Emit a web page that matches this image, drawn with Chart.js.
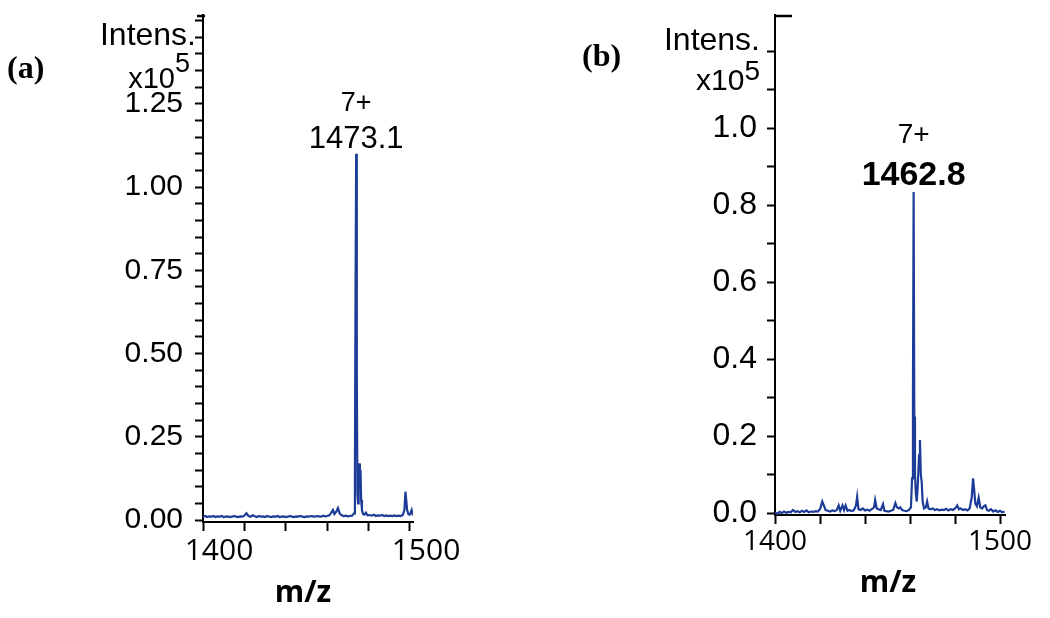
<!DOCTYPE html>
<html>
<head>
<meta charset="utf-8">
<script src="https://cdn.jsdelivr.net/npm/chart.js@4.4.1/dist/chart.umd.min.js"></script>
<style>
  html, body { margin: 0; padding: 0; background: #fff; }
  #wrap { position: relative; width: 1050px; height: 618px; overflow: hidden; background: #fff; }
  canvas { position: absolute; top: 0; }
</style>
</head>
<body>
<div id="wrap">
  <canvas id="cA" width="525" height="618" style="left:0px"></canvas>
  <canvas id="cB" width="525" height="618" style="left:525px"></canvas>
</div>
<script>
// ---------- Panel (a) data ----------
const mzA = [1400,1401,1402,1403,1404,1405,1406,1407,1408,1409,1410,1411,1412,1413,1414,1415,1416,1417,1418,1419,1420,1421,1422,1423,1424,1425,1426,1427,1428,1429,1430,1431,1432,1433,1434,1435,1436,1437,1438,1439,1440,1441,1442,1443,1444,1445,1446,1447,1448,1449,1450,1451,1452,1453,1454,1455,1456,1457,1458,1459,1460,1461,1462,1462.8,1463.5,1464.3,1465.2,1466,1467,1468,1469,1470,1471,1472,1473,1473.4,1473.7,1474.0,1474.3,1474.6,1474.9,1475.2,1475.5,1475.8,1476.1,1476.4,1476.8,1477.3,1478,1478.7,1479.5,1480.5,1481.5,1482.5,1483.5,1484.5,1485.5,1486.5,1487.5,1488.5,1489.5,1490.5,1491.5,1492.5,1493.5,1494.5,1495.5,1496.5,1497.3,1497.8,1498.2,1498.6,1499.2,1499.8,1500.3,1500.8,1501.2,1501.5];
const intA = [0.010,0.012,0.009,0.011,0.010,0.012,0.009,0.011,0.010,0.012,0.009,0.010,0.011,0.009,0.010,0.012,0.010,0.009,0.011,0.010,0.013,0.020,0.012,0.010,0.014,0.011,0.009,0.012,0.010,0.011,0.009,0.012,0.010,0.009,0.011,0.010,0.012,0.009,0.010,0.011,0.009,0.010,0.012,0.010,0.009,0.011,0.010,0.012,0.010,0.009,0.011,0.010,0.012,0.011,0.010,0.012,0.011,0.010,0.013,0.011,0.012,0.014,0.022,0.030,0.018,0.024,0.036,0.020,0.014,0.012,0.013,0.011,0.012,0.013,0.020,0.15,0.70,1.10,0.45,0.08,0.05,0.14,0.17,0.12,0.15,0.06,0.03,0.018,0.016,0.022,0.014,0.015,0.013,0.016,0.012,0.014,0.013,0.015,0.012,0.014,0.012,0.013,0.012,0.014,0.012,0.013,0.012,0.015,0.030,0.085,0.060,0.030,0.018,0.016,0.022,0.030,0.018,0.014];
const peakA = { mz: 1474.0, value: 1.10, charge: "7+", label: "1473.1" };

// ---------- Panel (b) data ----------
const mzB = [1400,1401,1402,1403,1404,1405,1406,1407,1408,1409,1410,1411,1412,1413,1414,1415,1416,1417,1418,1419,1420,1421,1421.8,1422.5,1423.5,1424.5,1425.5,1426.5,1427.5,1428.3,1429,1430,1430.7,1431.4,1432.2,1433,1434,1435,1436,1436.5,1437.1,1438,1439,1440,1441,1442,1443,1444,1444.5,1445.2,1446,1447,1448,1448.6,1449.5,1450.5,1451.5,1452.5,1453.5,1454.2,1455,1455.7,1456.5,1457.5,1458.5,1459.5,1460.4,1460.9,1461.3,1461.6,1461.9,1462.2,1462.6,1463.0,1463.5,1464.0,1464.4,1464.8,1465.2,1465.6,1466.2,1467,1467.6,1468.2,1469,1470,1471,1472,1473,1474,1475,1476,1477,1478,1479,1480,1481,1481.7,1482.5,1483.5,1484.5,1485.5,1486.5,1487.4,1488.0,1488.5,1489.0,1489.7,1490.5,1491.2,1492,1492.8,1493.5,1494.2,1495,1496,1497,1498,1499,1500,1501,1502];
const intB = [0.002,-0.002,0.003,0.000,0.004,0.001,0.003,0.002,0.008,0.003,0.005,0.002,0.006,0.003,0.007,0.002,0.004,0.003,0.005,0.004,0.010,0.030,0.018,0.008,0.006,0.004,0.007,0.005,0.008,0.020,0.006,0.020,0.008,0.020,0.006,0.008,0.005,0.007,0.020,0.042,0.010,0.008,0.012,0.007,0.009,0.006,0.010,0.015,0.034,0.012,0.010,0.008,0.023,0.006,0.005,0.004,0.006,0.008,0.026,0.015,0.012,0.015,0.008,0.006,0.005,0.008,0.015,0.09,0.30,0.834,0.25,0.10,0.05,0.03,0.08,0.15,0.19,0.10,0.08,0.03,0.012,0.015,0.030,0.012,0.010,0.012,0.008,0.010,0.007,0.009,0.008,0.011,0.007,0.010,0.008,0.012,0.020,0.010,0.012,0.008,0.010,0.007,0.012,0.04,0.090,0.060,0.025,0.018,0.040,0.015,0.012,0.018,0.020,0.008,0.006,0.010,0.004,0.007,0.003,0.006,0.002,0.004];
const peakB = { mz: 1461.6, value: 0.834, charge: "7+", label: "1462.8" };

// ---------- Tick label lists ----------
const yLabelsA = ["0.00","0.25","0.50","0.75","1.00","1.25"];
const yLabelsB = ["0.0","0.2","0.4","0.6","0.8","1.0"];
const xLabels = ["1400","1500"];

const LINE_COLOR = '#1d3c98';

const extrasPlugin = {
  id: 'extras',
  afterDraw(chart, args, opts) {
    const ctx = chart.ctx;
    const xs = chart.scales.x, ys = chart.scales.y;
    const ca = chart.chartArea;
    ctx.save();
    ctx.fillStyle = '#000';
    ctx.textBaseline = 'alphabetic';
    // panel letter
    ctx.font = opts.letterFont;
    ctx.textAlign = 'left';
    ctx.fillText(opts.letter, opts.letterPos[0], opts.letterPos[1]);
    // Intens. and x10^5
    ctx.textAlign = 'right';
    ctx.font = opts.intensFont;
    ctx.fillText('Intens.', ca.left + opts.intensPos[0], opts.intensPos[1]);
    ctx.font = opts.expFont;
    const supW = ctx.measureText('5').width;
    ctx.fillText('5', ca.left + opts.expPos[0], opts.expPos[2]);
    ctx.font = opts.x10Font;
    ctx.fillText('x10', ca.left + opts.expPos[0] - supW, opts.expPos[1]);
    // peak annotations
    const px = xs.getPixelForValue(opts.peak.mz);
    const py = ys.getPixelForValue(opts.peak.value);
    ctx.textAlign = 'center';
    ctx.font = opts.chargeFont;
    ctx.fillText(opts.peak.charge, px, py - opts.chargeGap);
    ctx.font = opts.peakFont;
    ctx.fillText(opts.peak.label, px, py - opts.labelGap);
    // axis title
    ctx.font = 'bold 30px "Open Sans", sans-serif';
    ctx.fillText('m/z', ca.left + opts.titlePos[0], opts.titlePos[1]);
    // axis top cap
    ctx.strokeStyle = '#000';
    ctx.lineWidth = 2.5;
    ctx.beginPath();
    ctx.moveTo(ca.left + opts.capDx[0], ca.top + 1);
    ctx.lineTo(ca.left + opts.capDx[1], ca.top + 1);
    ctx.stroke();
    ctx.restore();
  }
};

function makeChart(id, mz, inten, cfg) {
  return new Chart(document.getElementById(id), {
    type: 'line',
    data: {
      datasets: [{
        data: mz.map((m, i) => ({ x: m, y: inten[i] })),
        borderColor: LINE_COLOR,
        borderWidth: 2.2,
        pointRadius: 0,
        tension: 0,
        fill: false
      }]
    },
    options: {
      responsive: false,
      animation: false,
      devicePixelRatio: 1,
      layout: { padding: { top: 15, right: cfg.padRight, left: 0, bottom: 0 } },
      plugins: { legend: { display: false }, tooltip: { enabled: false }, extras: cfg.extras },
      scales: {
        x: {
          type: 'linear',
          min: 1400, max: cfg.xMax,
          afterFit(s) { s.height = cfg.xAxisH; s.paddingLeft = 0; s.paddingRight = 0; },
          border: { display: true, color: '#000', width: 2 },
          grid: { drawOnChartArea: false, drawTicks: true, tickLength: 9, tickWidth: 2, tickColor: '#000' },
          ticks: {
            stepSize: 20, autoSkip: false, includeBounds: false, maxRotation: 0,
            color: '#000', font: { family: '"Open Sans", sans-serif', size: cfg.xFont },
            padding: cfg.xPad, labelOffset: cfg.xLabelOffset,
            callback: (v) => { const s = String(Math.round(v)); return xLabels.includes(s) ? s : ''; }
          }
        },
        y: {
          type: 'linear',
          min: cfg.yMin, max: cfg.yMax,
          afterFit(s) { s.width = cfg.yAxisW; s.paddingTop = 0; s.paddingBottom = 0; },
          border: { display: true, color: '#000', width: 2 },
          grid: { drawOnChartArea: false, drawTicks: true, tickLength: 8, tickWidth: 2, tickColor: '#000' },
          ticks: {
            stepSize: cfg.yStep, autoSkip: false, includeBounds: false,
            color: '#000', font: { family: '"Liberation Sans", Arial, sans-serif', size: cfg.yFont },
            padding: cfg.yPad,
            callback: (v) => { const s = v.toFixed(cfg.yDec); return cfg.yLabels.includes(s) ? s : ''; }
          }
        }
      }
    },
    plugins: [extrasPlugin]
  });
}

makeChart('cA', mzA, intA, {
  padRight: 112, xMax: 1501.45, xAxisH: 96, xFont: 30, xPad: 2, xLabelOffset: 16,
  yMin: -0.006, yMax: 1.517, yAxisW: 203, yStep: 0.05, yFont: 30, yPad: 12, yDec: 2, yLabels: yLabelsA,
  extras: {
    letter: '(a)', letterPos: [7, 78], letterFont: 'bold 32px "Liberation Serif", serif',
    intensFont: '32px "Liberation Sans", Arial, sans-serif', intensPos: [-7, 45],
    x10Font: '29px "Liberation Sans", Arial, sans-serif', expFont: '27px "Liberation Sans", Arial, sans-serif', expPos: [-13, 88, 72],
    peak: peakA, chargeFont: '27px "Liberation Sans", Arial, sans-serif', chargeGap: 43,
    peakFont: '31px "Liberation Sans", Arial, sans-serif', labelGap: 6,
    titlePos: [100, 602], capDx: [-6, 2]
  }
});

makeChart('cB', mzB, intB, {
  padRight: 45, xMax: 1502.2, xAxisH: 103, xFont: 28, xPad: 1, xLabelOffset: 0,
  yMin: -0.005, yMax: 1.294, yAxisW: 250, yStep: 0.1, yFont: 32, yPad: 10, yDec: 1, yLabels: yLabelsB,
  extras: {
    letter: '(b)', letterPos: [57, 66], letterFont: 'bold 32px "Liberation Serif", serif',
    intensFont: '32px "Liberation Sans", Arial, sans-serif', intensPos: [-15, 50],
    x10Font: '30px "Liberation Sans", Arial, sans-serif', expFont: '28px "Liberation Sans", Arial, sans-serif', expPos: [-15, 90, 80],
    peak: peakB, chargeFont: '28px "Liberation Sans", Arial, sans-serif', chargeGap: 49,
    peakFont: 'bold 34px "Liberation Sans", Arial, sans-serif', labelGap: 7,
    titlePos: [113, 592], capDx: [-1, 17]
  }
});
</script>
</body>
</html>
